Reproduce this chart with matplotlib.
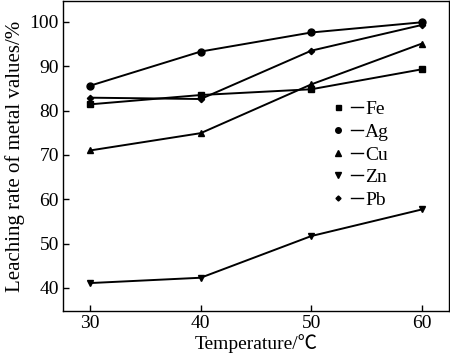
import matplotlib
matplotlib.use("Agg")
import matplotlib.pyplot as plt
from matplotlib.lines import Line2D
from matplotlib.legend_handler import HandlerTuple

plt.rcParams['font.family'] = ['Liberation Serif', 'Noto Sans CJK SC', 'DejaVu Sans']

temps = [30, 40, 50, 60]
fe = [81.4, 83.5, 84.8, 89.3]
ag = [85.6, 93.3, 97.6, 99.9]
cu = [71.0, 74.9, 85.9, 95.1]
zn = [41.1, 42.3, 51.7, 57.7]
pb = [82.9, 82.6, 93.5, 99.3]

names = ["Fe", "Ag", "Cu", "Zn", "Pb"]
series = [fe, ag, cu, zn, pb]
markers = ["s", "o", "^", "v", "D"]
msizes = [4.5, 5, 5, 5, 3.2]

fig = plt.figure(figsize=(4.5, 3.57), dpi=100)
ax = fig.add_axes([63/450, 1 - 311/357, 386/450, 310/357])

handles = []
for name, ys, m, ms in zip(names, series, markers, msizes):
    ax.plot(temps, ys, color='black', lw=1.4, marker=m, markersize=ms)
    h_mark = Line2D([], [], color='black', marker=m, markersize=ms * 0.8, linestyle='none')
    h_line = Line2D([], [], color='black', lw=1.0)
    handles.append((h_mark, h_line))

ax.set_xlim(27.55, 62.45)
ax.set_ylim(34.8, 104.7)
ax.set_xticks([30, 40, 50, 60])
ax.set_yticks([40, 50, 60, 70, 80, 90, 100])
ax.tick_params(direction='in', length=4, width=1, labelsize=14, pad=3, top=False, right=False)
for s in ax.spines.values():
    s.set_linewidth(1.0)

ax.set_xlabel("Temperature/℃", fontsize=14, labelpad=1)
ax.set_ylabel("Leaching rate of metal values/%", fontsize=15, labelpad=3)

ax.legend(handles, names, handler_map={tuple: HandlerTuple(ndivide=None, pad=0.3)},
          loc='upper left', bbox_to_anchor=(0.672, 0.71), frameon=False,
          fontsize=14, handlelength=1.6, handletextpad=0.1, labelspacing=0.26,
          borderpad=0)

fig.savefig("out.png", dpi=100)
